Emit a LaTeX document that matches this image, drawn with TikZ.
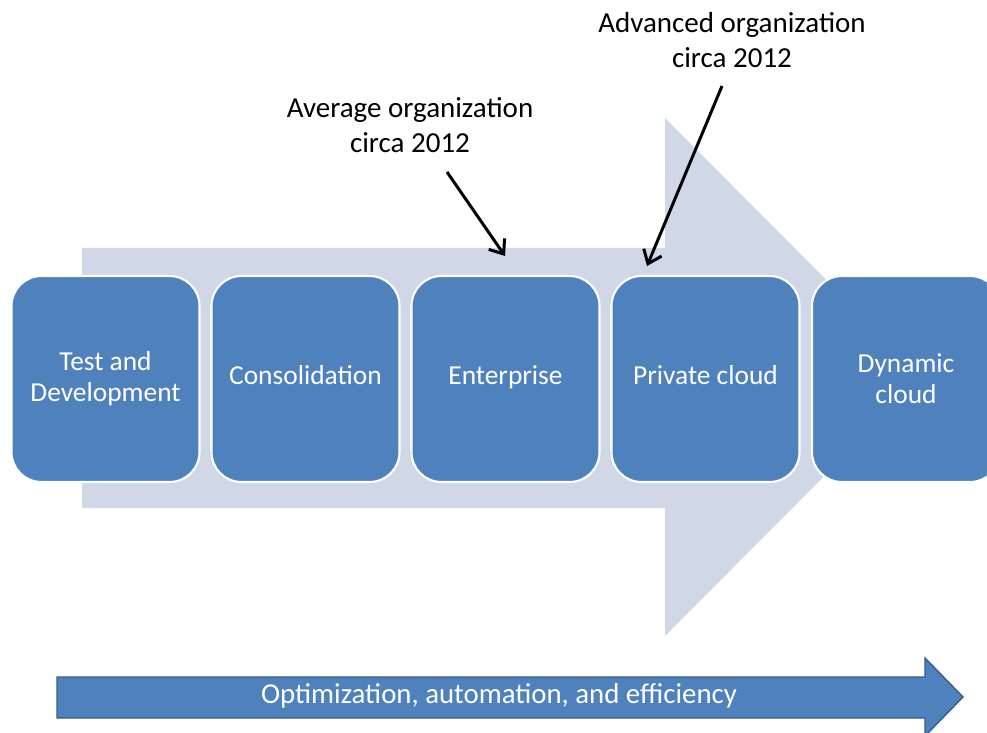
\documentclass[tikz,border=0pt]{standalone}
\usepackage{fontspec}
\setmainfont{Carlito}
\usetikzlibrary{arrows.meta}

\definecolor{stageblue}{HTML}{4F81BD}
\definecolor{stageedge}{HTML}{385D8A}
\definecolor{backshade}{HTML}{D0D8E8}

\tikzset{
  stage/.style={fill=stageblue, draw=white, line width=1.2pt, rounded corners=17pt,
    minimum width=3.76cm, minimum height=4.12cm, text=white, align=center,
    font=\fontsize{15.6}{17.6}\selectfont},
  oneline/.style={text height=8pt, text depth=2pt},
  note/.style={align=center, font=\fontsize{16.5}{19.8}\selectfont},
  pointer/.style={line width=1.7pt, -{Straight Barb[length=7pt,width=11pt]}}
}

\begin{document}
\begin{tikzpicture}[x=0.02cm, y=-0.02cm]
    \useasboundingbox[fill=white] (0,0) rectangle (987,733);

    % wide arrow behind the stages
    \fill[backshade] (82,248) -- (665,248) -- (665,118) -- (923,377)
      -- (665,636) -- (665,508) -- (82,508) -- cycle;

    \node[stage] (test) at (105.5,379) {Test and\\Development};
    \node[stage, oneline] (consol) at (305.5,379) {Consolidation};
    \node[stage, oneline] (enterp) at (505.5,379) {Enterprise};
    \node[stage, oneline] (private) at (705.5,379) {Private cloud};
    \node[stage] (dynamic) at (906,379) {Dynamic\\cloud};

    \node[note] (avg) at (410,125) {Average organization\\circa 2012};
    \node[note] (adv) at (732,40) {Advanced organization\\circa 2012};

    \coordinate (avgfrom) at (447,172);
    \coordinate (avgto) at (505,256);
    \coordinate (advfrom) at (722,86);
    \coordinate (advto) at (647,266);
    \draw[pointer] (avgfrom) -- (avgto);
    \draw[pointer] (advfrom) -- (advto);

    % bottom arrow
    \filldraw[fill=stageblue, draw=stageedge, line width=0.8pt]
      (57,677) -- (925,677) -- (925,658) -- (963,697)
      -- (925,736) -- (925,718) -- (57,718) -- cycle;
    \node[text=white, font=\fontsize{16.4}{18}\selectfont] (gain) at (499,696)
      {Optimization, automation, and efficiency};
  \end{tikzpicture}
\end{document}
